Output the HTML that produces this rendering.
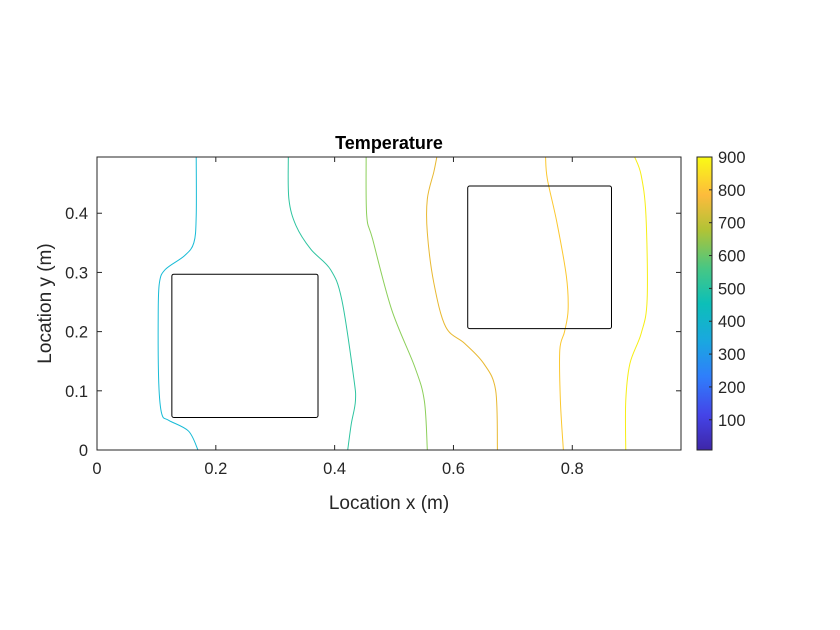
<!DOCTYPE html>
<html><head><meta charset="utf-8"><style>
body{margin:0;background:#fff;}
svg{display:block;font-family:"Liberation Sans",sans-serif;}
</style></head><body>
<svg width="840" height="630">
<defs><linearGradient id="parula" x1="0" y1="1" x2="0" y2="0">
<stop offset="0" stop-color="#3e26a8"/><stop offset="0.12" stop-color="#4444e8"/><stop offset="0.25" stop-color="#2f7efb"/><stop offset="0.37" stop-color="#1aa7e0"/><stop offset="0.5" stop-color="#0cbfb8"/><stop offset="0.62" stop-color="#47c784"/><stop offset="0.75" stop-color="#b0c336"/><stop offset="0.87" stop-color="#fdbb3c"/><stop offset="1" stop-color="#f9fb15"/>
</linearGradient></defs>
<g id="plot"></g>
</svg>
<script>
const xLim=[0,0.983], yLim=[0,0.495];
const xTicks=[0,0.2,0.4,0.6,0.8], yTicks=[0,0.1,0.2,0.3,0.4];
const xTickLabels=["0","0.2","0.4","0.6","0.8"], yTickLabels=["0","0.1","0.2","0.3","0.4"];
const cbTicks=[100,200,300,400,500,600,700,800,900], cbLim=[8,900];
const levels=[420,510,600,700,790,880];
const levelColors=["#17bbd6","#2ec4a0","#8ccf5a","#e8b830","#fbc72e","#f6ee14"];
const c1x=[0.167,0.167,0.163,0.147,0.115,0.105,0.103,0.104,0.109,0.121,0.154,0.170];
const c1y=[0.495,0.396,0.350,0.328,0.305,0.282,0.225,0.112,0.061,0.050,0.032,0];
const c2x=[0.322,0.323,0.335,0.360,0.393,0.412,0.432,0.435,0.428,0.422];
const c2y=[0.495,0.424,0.379,0.339,0.305,0.254,0.123,0.083,0.044,0];
const c3x=[0.453,0.454,0.464,0.496,0.535,0.551,0.556];
const c3y=[0.495,0.396,0.356,0.237,0.140,0.083,0];
const c4x=[0.572,0.567,0.556,0.556,0.567,0.587,0.619,0.651,0.671,0.674];
const c4y=[0.495,0.470,0.424,0.367,0.282,0.208,0.180,0.146,0.101,0];
const c5x=[0.755,0.758,0.774,0.790,0.793,0.787,0.779,0.780,0.785];
const c5y=[0.495,0.458,0.385,0.294,0.237,0.200,0.169,0.083,0];
const c6x=[0.905,0.916,0.924,0.926,0.916,0.897,0.890,0.890];
const c6y=[0.495,0.464,0.396,0.254,0.197,0.146,0.083,0];
const rectX0=[0.126,0.624], rectX1=[0.372,0.866], rectY0=[0.055,0.205], rectY1=[0.297,0.446];

const L=97,R=681,T=157,B=450;
const sx=v=>L+(v-xLim[0])/(xLim[1]-xLim[0])*(R-L);
const sy=v=>B-(v-yLim[0])/(yLim[1]-yLim[0])*(B-T);
const CL=697,CR=712;
const cy=v=>B-(v-cbLim[0])/(cbLim[1]-cbLim[0])*(B-T);
const NS="http://www.w3.org/2000/svg";
const g=document.getElementById('plot');
function mk(tag,attrs,parent){const e=document.createElementNS(NS,tag);for(const k in attrs)e.setAttribute(k,attrs[k]);(parent||g).appendChild(e);return e;}
function smooth(px,py){let d=`M${px[0]},${py[0]}`;for(let i=0;i<px.length-1;i++){const p0=i?i-1:i,p3=i+2<px.length?i+2:i+1;const a1x=px[i]+(px[i+1]-px[p0])/6,a1y=py[i]+(py[i+1]-py[p0])/6,a2x=px[i+1]-(px[p3]-px[i])/6,a2y=py[i+1]-(py[p3]-py[i])/6;d+=` C${a1x},${a1y} ${a2x},${a2y} ${px[i+1]},${py[i+1]}`;}return d;}

let e=mk('rect',{x:L,y:T,width:R-L,height:B-T,fill:'#fff',stroke:'none'});


const curves=[[c1x,c1y],[c2x,c2y],[c3x,c3y],[c4x,c4y],[c5x,c5y],[c6x,c6y]];
curves.forEach((c,i)=>{
 const p=mk('path',{d:smooth(c[0].map(sx),c[1].map(sy)),fill:'none',stroke:levelColors[i],'stroke-width':1});
 
 
});
rectX0.forEach((x0,i)=>{
 const r=mk('rect',{x:sx(x0),y:sy(rectY1[i]),width:sx(rectX1[i])-sx(x0),height:sy(rectY0[i])-sy(rectY1[i]),rx:2,fill:'none',stroke:'#000','stroke-width':1});
 
 
});
e=mk('rect',{x:L,y:T,width:R-L,height:B-T,fill:'none',stroke:'#262626','stroke-width':1});


xTicks.forEach((v,i)=>{
 mk('line',{x1:sx(v),x2:sx(v),y1:B,y2:B-5,stroke:'#262626'});
 mk('line',{x1:sx(v),x2:sx(v),y1:T,y2:T+5,stroke:'#262626'});
 const t=mk('text',{x:sx(v),y:B+24,'text-anchor':'middle','font-size':16.5,fill:'#262626'});t.textContent=xTickLabels[i];
 
 
});
yTicks.forEach((v,i)=>{
 mk('line',{x1:L,x2:L+5,y1:sy(v),y2:sy(v),stroke:'#262626'});
 mk('line',{x1:R,x2:R-5,y1:sy(v),y2:sy(v),stroke:'#262626'});
 const t=mk('text',{x:L-9,y:sy(v)+6,'text-anchor':'end','font-size':16.5,fill:'#262626'});t.textContent=yTickLabels[i];
 
 
});
e=mk('text',{x:(L+R)/2,y:509,'text-anchor':'middle','font-size':19,fill:'#262626'});e.textContent='Location x (m)';


e=mk('text',{x:51,y:(T+B)/2,'text-anchor':'middle','font-size':19,fill:'#262626',transform:`rotate(-90 51 ${(T+B)/2})`});e.textContent='Location y (m)';


e=mk('text',{x:(L+R)/2,y:149,'text-anchor':'middle','font-size':18,'font-weight':'bold',fill:'#000'});e.textContent='Temperature';


e=mk('rect',{x:CL,y:T,width:CR-CL,height:B-T,fill:'url(#parula)',stroke:'#262626','stroke-width':1});


cbTicks.forEach(v=>{
 mk('line',{x1:CR,x2:CR-3,y1:cy(v),y2:cy(v),stroke:'#262626'});
 const t=mk('text',{x:CR+6,y:cy(v)+6,'font-size':16.5,fill:'#262626'});t.textContent=v;
 
 
});
</script>
</body></html>
